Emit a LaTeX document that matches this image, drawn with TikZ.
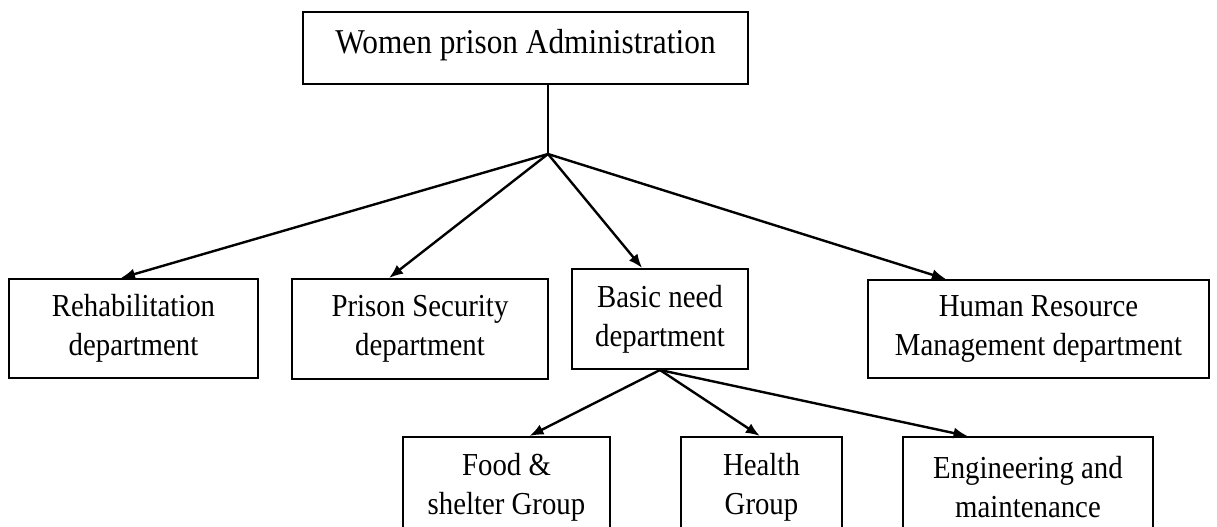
\documentclass[tikz,border=0pt]{standalone}
\usepackage{fontspec}
\setmainfont{Liberation Serif}[FakeStretch=0.9]
\usetikzlibrary{calc,arrows.meta}
\tikzset{
  unit/.style={draw,line width=1pt,align=center,inner sep=0pt,font=\fontsize{16}{19.5}\selectfont},
  link/.style={line width=1.2pt,-{Latex[length=7pt,width=5.5pt]}},
}
\begin{document}
\begin{tikzpicture}[x=0.5pt,y=-0.5pt]
      \clip (0,0) rectangle (1217,526);
      \node[unit,minimum width=222.5pt,minimum height=36pt,font=\fontsize{17.4}{20}\selectfont,text height=20.5pt,text depth=15.5pt](admin) at (525.5,48) {Women prison Administration};
      \node[unit,minimum width=124.5pt,minimum height=49.5pt](rehab) at (133.5,328.5) {Rehabilitation\\department};
      \node[unit,minimum width=128pt,minimum height=50pt](security) at (420,329) {Prison Security\\department};
      \node[unit,minimum width=88pt,minimum height=50pt](basic) at (660,319) {Basic need\\department};
      \node[unit,minimum width=170.5pt,minimum height=49pt](hr) at (1038.5,329) {Human Resource\\Management department};
      \node[unit,minimum width=103.5pt,minimum height=50pt](food) at (506.5,487) {Food \&\\shelter Group};
      \node[unit,minimum width=80.5pt,minimum height=50pt](health) at (761.5,487) {Health\\Group};
      \node[unit,minimum width=125pt,minimum height=50pt](eng) at (1028,487) {Engineering and\\maintenance};
      \coordinate(J) at (548,154);
      \draw[line width=1.1pt](admin.south -| J)--(J);
      \foreach \x/\y in{rehab/0.45,security/0.38,basic/0.4,hr/0.23}{
        \draw[link](J)--($(\x.north west)!\y!(\x.north east)$);
      }
      \foreach \x/\y in{food/0.61,health/0.49,eng/0.26}{
        \draw[link](basic.south)--($(\x.north west)!\y!(\x.north east)$);
      }
    \end{tikzpicture}
\end{document}
